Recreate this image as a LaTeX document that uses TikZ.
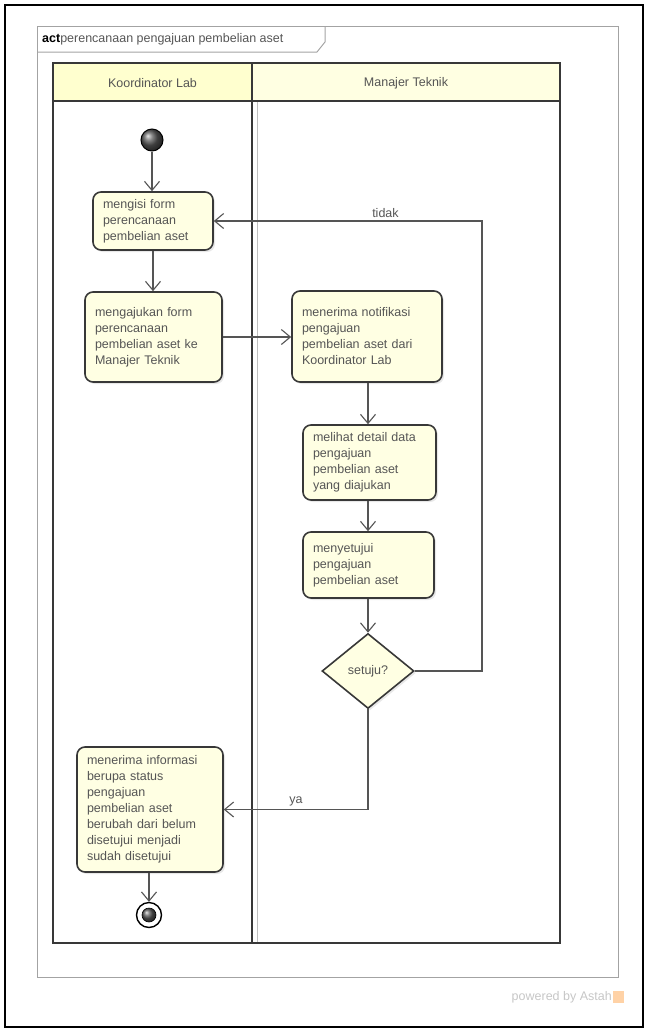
\documentclass[tikz,border=0pt]{standalone}
\usepackage{fontspec}
\setmainfont{Liberation Sans}
\usepackage{xcolor}
\usepackage{tikz}
\usetikzlibrary{shapes.geometric, arrows.meta, positioning, calc, shadows}
\definecolor{actfill}{HTML}{FFFFE3}
\definecolor{lanefill}{HTML}{FFFFCF}
\definecolor{actline}{HTML}{383838}
\definecolor{acttext}{HTML}{555555}
\definecolor{framegray}{HTML}{A3A3A3}
\newcommand\actfont{\fontsize{12.5}{16}\selectfont}

\tikzset{
  action/.style={draw=actline, line width=1.6pt, fill=actfill, rounded corners=8pt,
    align=left, inner xsep=10pt, inner ysep=0pt, text=acttext, font=\actfont,
    drop shadow={opacity=0.18, shadow xshift=2pt, shadow yshift=-2pt}},
  decision/.style={diamond, draw=actline, line width=1.6pt, fill=actfill, inner sep=0pt,
    minimum width=92pt, minimum height=75pt, text=acttext, font=\actfont,
    drop shadow={opacity=0.18, shadow xshift=2pt, shadow yshift=-2pt}},
  startnode/.style={circle, draw=black, line width=1pt, ball color=gray!70!black,
    minimum size=22pt, inner sep=0pt},
  endnode/.style={circle, draw=black, line width=1.4pt, fill=white, minimum size=25pt, inner sep=0pt},
  flow/.style={draw=acttext, line width=1.1pt, -{Straight Barb[length=9pt, width=15pt]}},
  lbl/.style={text=acttext, font=\actfont, inner sep=3pt},
  lanehead/.style={text=acttext, font=\actfont}
}

\begin{document}
\begin{tikzpicture}[x=1pt, y=-1pt]
    \useasboundingbox (0,0) rectangle (648,1031);
    \draw[black, line width=1.5pt] (5,5) rectangle (643,1027);

    % Frame and tab
    \draw[framegray, line width=1pt] (37,26) rectangle (618,977);
    \draw[framegray, line width=1pt] (37,52) -- (317,52) -- (325,42) -- (325,26);
    \node[anchor=west, font=\actfont, text=acttext, inner sep=0pt] (title) at (42,39)
        {\textcolor{black}{\textbf{act}}perencanaan pengajuan pembelian aset};

    % Swimlanes
    \fill[lanefill] (53,63) rectangle (252,101);
    \fill[lanefill!60!white] (252,63) rectangle (560,101);
    \draw[gray!50, line width=0.8pt] (257,101) -- (257,943);
    \draw[actline, line width=2pt] (53,63) rectangle (560,943);
    \draw[actline, line width=2pt] (53,101) -- (560,101);
    \draw[actline, line width=2pt] (252,63) -- (252,943);
    \node[lanehead] (laneK) at (152.5,83) {Koordinator Lab};
    \node[lanehead] (laneM) at (406,83) {Manajer Teknik};

    % Actions
    \node[startnode] (mulai) at (152,140) {};
    \node[action, minimum width=120pt, text width=100pt, minimum height=58pt] (isi) at (153,221)
        {mengisi form\\perencanaan\\pembelian aset};
    \node[action, minimum width=137pt, text width=117pt, minimum height=90pt] (ajukan) at (153.5,337)
        {mengajukan form\\perencanaan\\pembelian aset ke\\Manajer Teknik};
    \node[action, minimum width=150pt, text width=130pt, minimum height=91pt] (notif) at (367,336.5)
        {menerima notifikasi\\pengajuan\\pembelian aset dari\\Koordinator Lab};
    \node[action, minimum width=133pt, text width=113pt, minimum height=75pt] (detail) at (369.5,462.5)
        {melihat detail data\\pengajuan\\pembelian aset\\yang diajukan};
    \node[action, minimum width=131pt, text width=111pt, minimum height=66pt] (setuju) at (368.5,565)
        {menyetujui\\pengajuan\\pembelian aset};
    \node[decision] (cek) at (368,671) {setuju?};
    \node[action, minimum width=146pt, text width=126pt, minimum height=125pt] (info) at (150,809.5)
        {menerima informasi\\berupa status\\pengajuan\\pembelian aset\\berubah dari belum\\disetujui menjadi\\sudah disetujui};
    \node[endnode] (selesai) at (149,915) {};
    \node[startnode, minimum size=14pt, line width=0.6pt] (selesaiin) at (selesai) {};

    % Flows
    \coordinate (tidakR) at (482,221);
    \draw[flow] (mulai) -- (mulai |- isi.north);
    \draw[flow] (isi.south) -- (isi.south |- ajukan.north);
    \draw[flow] (ajukan.east) -- (ajukan.east -| notif.west);
    \draw[flow] (cek.north |- notif.south) -- (cek.north |- detail.north);
    \draw[flow] (cek.north |- detail.south) -- (cek.north |- setuju.north);
    \draw[flow] (cek.north |- setuju.south) -- (cek.north);
    \draw[flow] (cek.east) -| (tidakR) -- node[lbl, above, pos=0.36] (ltidak) {tidak} (isi.east);
    \draw[flow] (cek.south) |- node[lbl, above, pos=0.75] (lya) {ya} (info.east);
    \draw[flow] (info.south -| selesai) -- (selesai.north);

    % Footer
    \node[anchor=east, font=\actfont, text=gray!45, inner sep=0pt] (astah) at (612,997) {powered by Astah};
    \fill[orange!35] (613,991) rectangle (624,1003);
\end{tikzpicture}
\end{document}
